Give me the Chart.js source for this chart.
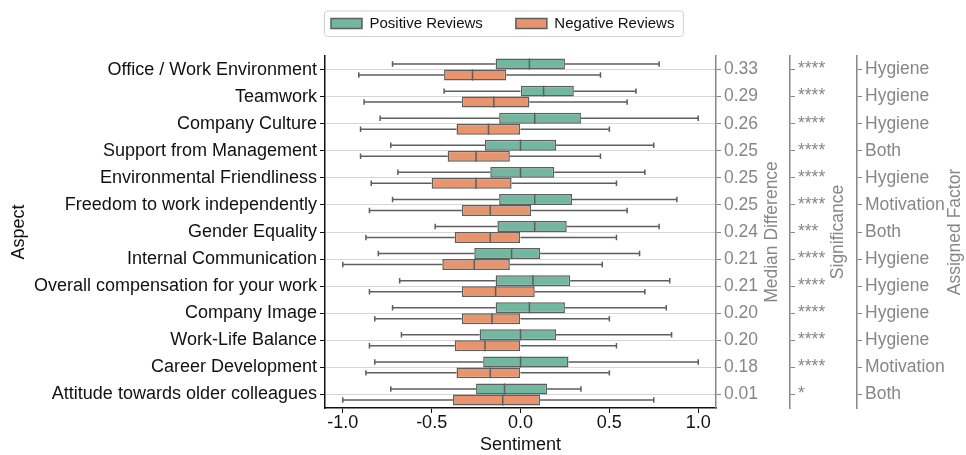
<!DOCTYPE html>
<html>
<head>
<meta charset="utf-8">
<script src="https://cdn.jsdelivr.net/npm/chart.js@4.4.1/dist/chart.umd.min.js"></script>
<style>
  html, body { margin: 0; padding: 0; background: #fff; }
</style>
</head>
<body>
<canvas id="myChart" width="966" height="455"></canvas>
<script>
const aspects = [
  'Office / Work Environment', 'Teamwork', 'Company Culture', 'Support from Management',
  'Environmental Friendliness', 'Freedom to work independently', 'Gender Equality',
  'Internal Communication', 'Overall compensation for your work', 'Company Image',
  'Work-Life Balance', 'Career Development', 'Attitude towards older colleagues'
];
const medianDiff = ['0.33', '0.29', '0.26', '0.25', '0.25', '0.25', '0.24', '0.21', '0.21', '0.20', '0.20', '0.18', '0.01'];
const significance = ['****', '****', '****', '****', '****', '****', '***', '****', '****', '****', '****', '****', '*'];
const factor = ['Hygiene', 'Hygiene', 'Hygiene', 'Both', 'Hygiene', 'Motivation', 'Both', 'Hygiene', 'Hygiene', 'Hygiene', 'Hygiene', 'Motivation', 'Both'];
const xTicks = [-1, -0.5, 0, 0.5, 1];

// positive reviews
const posMin = [-0.72, -0.43, -0.79, -0.73, -0.69, -0.72, -0.48, -0.80, -0.68, -0.72, -0.67, -0.82, -0.73];
const posQ1  = [-0.14, 0.00, -0.12, -0.20, -0.17, -0.12, -0.13, -0.26, -0.14, -0.14, -0.23, -0.21, -0.25];
const posMed = [0.05, 0.13, 0.08, 0.00, 0.00, 0.08, 0.08, -0.05, 0.07, 0.05, 0.00, 0.00, -0.09];
const posQ3  = [0.25, 0.30, 0.34, 0.20, 0.19, 0.29, 0.26, 0.11, 0.28, 0.25, 0.20, 0.27, 0.15];
const posMax = [0.78, 0.65, 1.00, 0.75, 0.70, 0.88, 0.78, 0.67, 0.84, 0.82, 0.85, 1.00, 0.34];

// negative reviews
const negMin = [-0.91, -0.88, -0.90, -0.90, -0.84, -0.85, -0.87, -1.00, -0.85, -0.82, -0.85, -0.87, -1.00];
const negQ1  = [-0.43, -0.33, -0.36, -0.41, -0.50, -0.33, -0.37, -0.44, -0.33, -0.33, -0.37, -0.36, -0.38];
const negMed = [-0.27, -0.15, -0.18, -0.25, -0.25, -0.17, -0.17, -0.26, -0.14, -0.16, -0.20, -0.17, -0.10];
const negQ3  = [-0.08, 0.05, 0.00, -0.06, -0.05, 0.06, 0.00, -0.06, 0.08, 0.00, 0.00, 0.00, 0.11];
const negMax = [0.45, 0.60, 0.50, 0.45, 0.54, 0.60, 0.54, 0.46, 0.70, 0.50, 0.54, 0.50, 0.75];

const green = '#72b8a0';
const orange = '#e8956e';
const lineGray = '#5e5e5e';
const textGray = '#878787';
const font = 'Liberation Sans, Arial, sans-serif';

const stats = [
  { min: posMin, med: posMed, max: posMax },
  { min: negMin, med: negMed, max: negMax }
];

// whiskers, caps and medians drawn on top of the floating bars
const whiskerPlugin = {
  id: 'whiskers',
  afterDatasetsDraw(chart) {
    const ctx = chart.ctx;
    const x = chart.scales.x;
    ctx.save();
    ctx.strokeStyle = lineGray;
    ctx.lineWidth = 1.5;
    stats.forEach((s, d) => {
      const meta = chart.getDatasetMeta(d);
      const raw = chart.data.datasets[d].data;
      meta.data.forEach((el, i) => {
        const y = el.y, h = el.height;
        const xmin = x.getPixelForValue(s.min[i]);
        const xmax = x.getPixelForValue(s.max[i]);
        const xq1 = x.getPixelForValue(raw[i][0]);
        const xq3 = x.getPixelForValue(raw[i][1]);
        const xmed = x.getPixelForValue(s.med[i]);
        ctx.beginPath();
        ctx.moveTo(xmin, y); ctx.lineTo(xq1, y);
        ctx.moveTo(xq3, y); ctx.lineTo(xmax, y);
        ctx.moveTo(xmin, y - h / 4); ctx.lineTo(xmin, y + h / 4);
        ctx.moveTo(xmax, y - h / 4); ctx.lineTo(xmax, y + h / 4);
        ctx.moveTo(xmed, y - h / 2); ctx.lineTo(xmed, y + h / 2);
        ctx.stroke();
      });
    });
    ctx.restore();
  }
};

// put the legend where the original has it and draw its frame
const legendPlugin = {
  id: 'legendFrame',
  afterLayout(chart) {
    const lg = chart.legend;
    const pad = lg.options.labels.padding;
    const w = lg.right - lg.left;
    lg.left = 331 - pad;
    lg.right = lg.left + w;
    lg.top = 16 - pad;
    lg.bottom = lg.top + lg.height;
  },
  afterDraw(chart) {
    const boxes = chart.legend.legendHitBoxes;
    if (!boxes || !boxes.length) return;
    const first = boxes[0], last = boxes[boxes.length - 1];
    const yc = first.top + first.height / 2;
    const ctx = chart.ctx;
    ctx.save();
    ctx.strokeStyle = '#d0d0d0';
    ctx.lineWidth = 1;
    ctx.beginPath();
    ctx.roundRect(first.left - 6.5, yc - 12.5, last.left + last.width + 9 - (first.left - 6.5), 25.5, 3);
    ctx.stroke();
    ctx.restore();
  }
};

// rotated titles of the three right-hand axes
const rightTitles = {
  id: 'rightTitles',
  afterDraw(chart) {
    const ctx = chart.ctx;
    const yc = (chart.chartArea.top + chart.chartArea.bottom) / 2;
    const items = [['y2', 'Median Difference', 56], ['y3', 'Significance', 48], ['y4', 'Assigned Factor', 98]];
    ctx.save();
    ctx.fillStyle = textGray;
    ctx.font = '17.5px ' + font;
    ctx.textAlign = 'center';
    ctx.textBaseline = 'middle';
    items.forEach(([id, text, dx]) => {
      const sc = chart.scales[id];
      ctx.save();
      ctx.translate(sc.left + dx, yc);
      ctx.rotate(-Math.PI / 2);
      ctx.fillText(text, 0, 0);
      ctx.restore();
    });
    ctx.restore();
  }
};

function rightAxis(labels, width, size) {
  return {
    type: 'category',
    position: 'right',
    labels: labels,
    offset: true,
    grid: { drawOnChartArea: false, offset: false, tickLength: 5, color: textGray, lineWidth: 1 },
    border: { color: textGray, width: 1.5 },
    ticks: { color: textGray, font: { family: font, size: size }, padding: 3 },
    afterFit(scale) { scale.width = width; }
  };
}

new Chart(document.getElementById('myChart'), {
  type: 'bar',
  data: {
    labels: aspects,
    datasets: [
      {
        label: 'Positive Reviews',
        data: posQ1.map((q, i) => [q, posQ3[i]]),
        backgroundColor: green,
        borderColor: lineGray,
        borderWidth: 1.5,
        borderSkipped: false,
        categoryPercentage: 0.81,
        barPercentage: 1.0
      },
      {
        label: 'Negative Reviews',
        data: negQ1.map((q, i) => [q, negQ3[i]]),
        backgroundColor: orange,
        borderColor: lineGray,
        borderWidth: 1.5,
        borderSkipped: false,
        categoryPercentage: 0.81,
        barPercentage: 1.0
      }
    ]
  },
  options: {
    indexAxis: 'y',
    responsive: false,
    animation: false,
    layout: { padding: 0 },
    plugins: {
      tooltip: { enabled: false },
      legend: {
        position: 'top',
        align: 'start',
        maxHeight: 56,
        labels: {
          boxWidth: 31,
          boxHeight: 10,
          padding: 33,
          color: '#111',
          font: { family: font, size: 15 }
        }
      }
    },
    scales: {
      x: {
        type: 'linear',
        min: -1.1,
        max: 1.1,
        afterBuildTicks(scale) { scale.ticks = xTicks.map(v => ({ value: v })); },
        ticks: {
          color: '#111',
          font: { family: font, size: 18 },
          padding: -1,
          callback: v => v.toFixed(1)
        },
        grid: { drawOnChartArea: false, tickLength: 5, color: '#111', lineWidth: 1 },
        border: { color: '#111', width: 1.5 },
        title: {
          display: true, text: 'Sentiment', color: '#111',
          font: { family: font, size: 18 }, padding: { top: 0, bottom: -1 }
        },
        afterFit(scale) { scale.height = 47; }
      },
      y: {
        type: 'category',
        position: 'left',
        offset: true,
        grid: { offset: false, color: '#d6d6d6', lineWidth: 1, tickLength: 5, tickColor: '#111' },
        border: { color: '#111', width: 1.5 },
        ticks: { color: '#111', font: { family: font, size: 18 }, padding: 3 },
        title: {
          display: true, text: 'Aspect', color: '#111',
          font: { family: font, size: 18 }, padding: { top: 8, bottom: 0 }
        },
        afterFit(scale) { scale.width = 325; }
      },
      y2: rightAxis(medianDiff, 74, 17.5),
      y3: rightAxis(significance, 67, 17.5),
      y4: rightAxis(factor, 109, 17.5)
    }
  },
  plugins: [whiskerPlugin, legendPlugin, rightTitles]
});
</script>
</body>
</html>
